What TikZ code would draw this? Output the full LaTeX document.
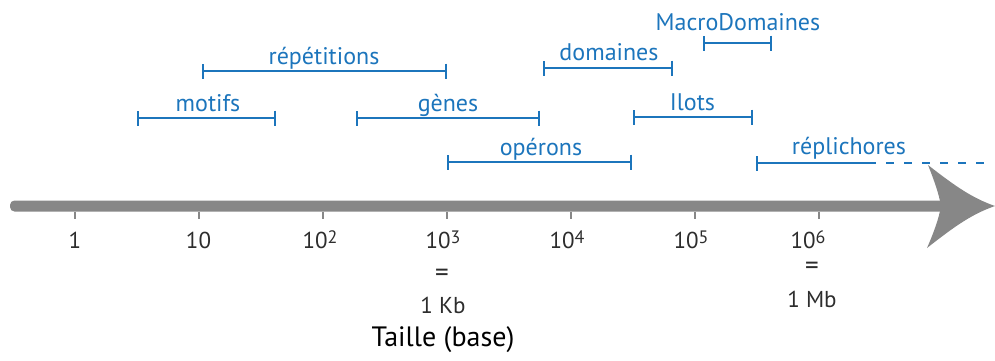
\documentclass[tikz,border=0pt]{standalone}
\usepackage{fontspec}
\setmainfont{PT Sans}
\usetikzlibrary{arrows.meta}
\definecolor{bl}{RGB}{28,117,188}
\definecolor{ax}{RGB}{135,135,135}
\definecolor{tx}{RGB}{45,45,45}
\newcommand{\pw}[1]{10\raisebox{5pt}{\fontsize{18}{18}\selectfont #1}}
\begin{document}
\begin{tikzpicture}[x=1pt,y=-1pt,
  span/.style={draw=bl,line width=2.2pt,{Bar[width=15pt,line width=2.2pt]}-{Bar[width=15pt,line width=2.2pt]}},
  spanl/.style={draw=bl,line width=2.2pt,{Bar[width=15pt,line width=2.2pt]}-},
  dashspan/.style={draw=bl,line width=2.2pt,dash pattern=on 8pt off 10pt},
  lbl/.style={text=bl,font=\fontsize{24}{26}\selectfont,inner sep=0pt,anchor=base},
  num/.style={text=tx,font=\fontsize{23}{25}\selectfont,inner sep=0pt,anchor=base},
  eqs/.style={text=tx,font=\fontsize{27}{28}\selectfont,inner sep=0pt},
  tickmark/.style={draw=ax,line width=1.5pt}]
\useasboundingbox (0,0) rectangle (995,360);
% axis
\fill[ax,rounded corners=4.5pt] (10,200.5) rectangle (945,211.5);
\fill[ax] (928,165) .. controls (955,186) and (972,198) .. (995,206)
  .. controls (972,214) and (955,226) .. (927,248)
  .. controls (934,232) and (939,218) .. (941,206)
  .. controls (939,194) and (934,180) .. (928,165) -- cycle;
% ticks
\foreach \x in {75,199,323,447,571,695,819}
  \draw[tickmark] (\x,211.5) -- (\x,218.5);
% tick labels
\node[num] (n0) at (75,248) {1};
\node[num] (n1) at (198.5,248) {10};
\node[num] (n2) at (320,248) {\pw{2}};
\node[num] (n3) at (443,248) {\pw{3}};
\node[num] (n4) at (567,248) {\pw{4}};
\node[num] (n5) at (691,248) {\pw{5}};
\node[num] (n6) at (808,248) {\pw{6}};
\node[eqs] (eqa) at (442,275) {=};
\node[num] (kb) at (443,313) {1 Kb};
\node[eqs] (eqb) at (812,268) {=};
\node[num] (mb) at (812,307) {1 Mb};
\node[text=black,inner sep=0pt,anchor=base,font=\fontsize{28}{30}\selectfont] (ttl) at (443,346) {Taille (base)};
% intervals
\coordinate (motA) at (137,118); \coordinate (motB) at (276,118);
\draw[span] (motA) -- (motB);
\node[lbl] (motL) at (208,111.5) {motifs};
\coordinate (repA) at (202,71); \coordinate (repB) at (447,71);
\draw[span] (repA) -- (repB);
\node[lbl] (repL) at (324,64) {répétitions};
\coordinate (genA) at (356,118); \coordinate (genB) at (540,118);
\draw[span] (genA) -- (genB);
\node[lbl] (genL) at (448,111) {gènes};
\coordinate (opA) at (447,162); \coordinate (opB) at (632,162);
\draw[span] (opA) -- (opB);
\node[lbl] (opL) at (541,155.5) {opérons};
\coordinate (domA) at (543,68); \coordinate (domB) at (673,68);
\draw[span] (domA) -- (domB);
\node[lbl] (domL) at (609,60.5) {domaines};
\coordinate (macA) at (703,43); \coordinate (macB) at (772,43);
\draw[span] (macA) -- (macB);
\node[lbl] (macL) at (738,30) {MacroDomaines};
\coordinate (ilA) at (633,117); \coordinate (ilB) at (753,117);
\draw[span] (ilA) -- (ilB);
\node[lbl] (ilL) at (692.5,110.5) {Ilots};
\coordinate (rpA) at (756,163); \coordinate (rpM) at (868,163); \coordinate (rpE) at (990,163);
\draw[spanl] (rpA) -- (rpM);
\draw[dashspan] (rpM) -- (rpE);
\node[lbl] (rpL) at (849,154) {réplichores};
\end{tikzpicture}
\end{document}
